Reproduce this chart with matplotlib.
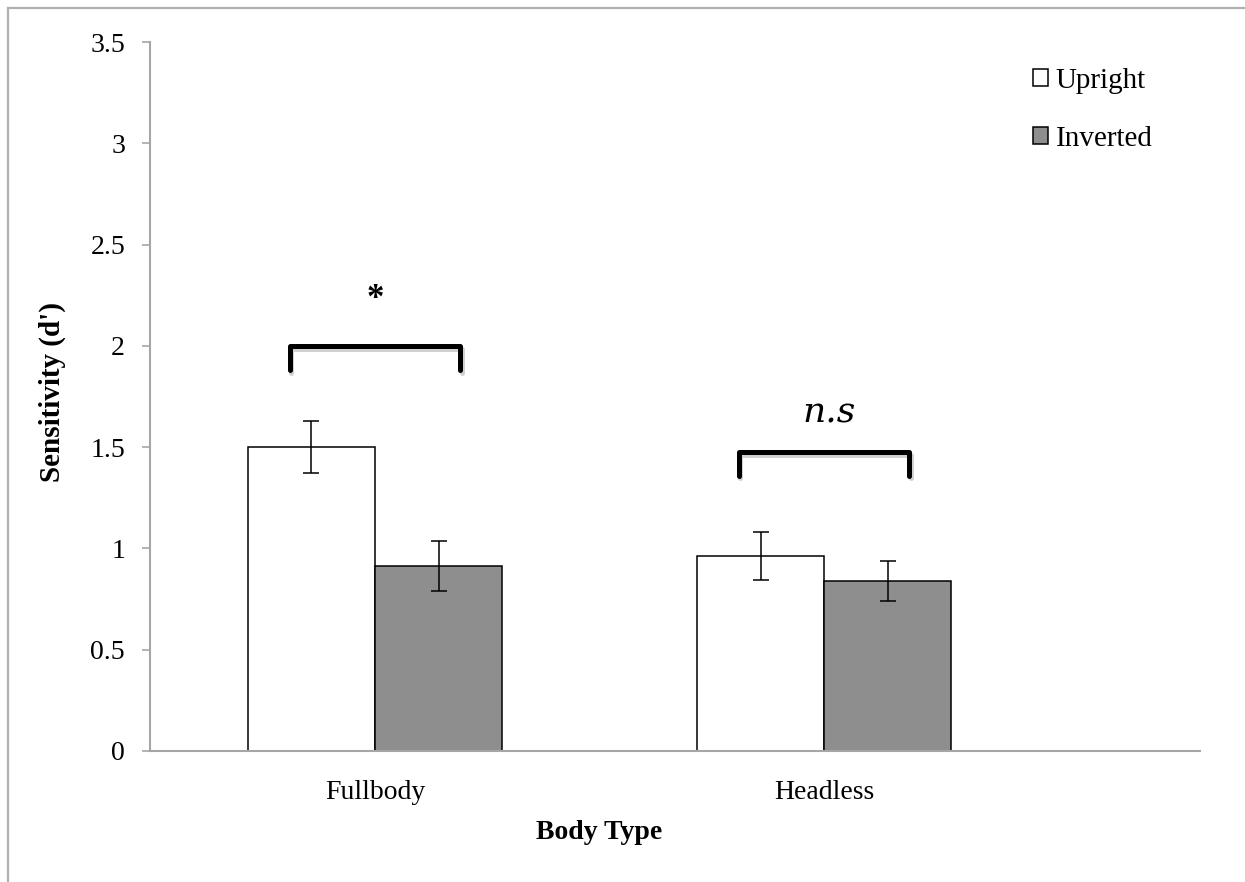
import matplotlib
matplotlib.use('Agg')
import matplotlib.pyplot as plt
import matplotlib.patheffects as pe
from matplotlib.lines import Line2D
from matplotlib.patches import Patch

# ── Data ──
body_types = ['Fullbody', 'Headless']
upright = [1.50, 0.962]
upright_err = [0.128, 0.118]
inverted = [0.913, 0.839]
inverted_err = [0.123, 0.099]
sig_labels = ['*', 'n.s']
bracket_top = [2.0, 1.476]
bracket_low = [1.88, 1.36]
label_y = [2.23, 1.67]

GREY = '#8e8e8e'
AXC = '#a6a6a6'
plt.rcParams['font.family'] = ['Liberation Serif', 'DejaVu Serif']

fig = plt.figure(figsize=(12.45, 8.82), dpi=100)
ax = fig.add_axes([150 / 1245, 1 - 751 / 882, 1050 / 1245, 709 / 882])

# outer frame of the figure
fig.add_artist(Line2D([8 / 1245, 8 / 1245], [0, 1 - 8 / 882], color='#b0b0b0', lw=1.6,
                      transform=fig.transFigure))
fig.add_artist(Line2D([8 / 1245, 1], [1 - 8 / 882, 1 - 8 / 882], color='#b0b0b0', lw=1.6,
                      transform=fig.transFigure))

centers = [1, 2]
w = 0.283
ax.bar([c - w / 2 for c in centers], upright, width=w, color='white', edgecolor='black',
       lw=1.1, label='Upright', zorder=2)
ax.bar([c + w / 2 for c in centers], inverted, width=w, color=GREY, edgecolor='black',
       lw=1.1, label='Inverted', zorder=2)
ax.errorbar([c - w / 2 for c in centers], upright, yerr=upright_err, fmt='none',
            ecolor='black', elinewidth=1.1, capsize=5.8, capthick=1.1, zorder=3)
ax.errorbar([c + w / 2 for c in centers], inverted, yerr=inverted_err, fmt='none',
            ecolor='black', elinewidth=1.1, capsize=5.8, capthick=1.1, zorder=3)

# significance brackets
for c, top, low, lab, ly in zip(centers, bracket_top, bracket_low, sig_labels, label_y):
    ax.plot([c - 0.19, c - 0.19, c + 0.19, c + 0.19], [low, top, top, low], color='black',
            lw=3.6, solid_joinstyle='round', solid_capstyle='round', zorder=4,
            path_effects=[pe.SimpleLineShadow(offset=(1.2, -2), alpha=0.18), pe.Normal()])
    if lab == '*':
        ax.text(c, ly, lab, ha='center', va='center', fontsize=25, fontweight='bold')
    else:
        ax.text(c + 0.01, ly, lab, ha='center', va='center', fontsize=26, style='italic',
                family=['DejaVu Serif'])

ax.set_xlim(0.499, 2.837)
ax.set_ylim(0, 3.5)
ax.set_yticks([0, 0.5, 1, 1.5, 2, 2.5, 3, 3.5])
ax.set_yticklabels(['0', '0.5', '1', '1.5', '2', '2.5', '3', '3.5'], fontsize=20)
ax.set_xticks(centers)
ax.set_xticklabels(body_types, fontsize=20)
ax.tick_params(axis='x', length=0, pad=21)
ax.tick_params(axis='y', length=6, width=1.2, color=AXC, direction='out', pad=12)
for s in ['top', 'right']:
    ax.spines[s].set_visible(False)
for s in ['left', 'bottom']:
    ax.spines[s].set_color(AXC)
    ax.spines[s].set_linewidth(1.5)

ax.text(-0.093, 0.506, "Sensitivity (d')", transform=ax.transAxes, rotation=90,
        ha='center', va='center', fontsize=21, fontweight='bold')
ax.text(1.5, -0.115, 'Body Type', transform=ax.get_xaxis_transform(),
        ha='center', va='center', fontsize=20, fontweight='bold')

handles = [Patch(facecolor='white', edgecolor='black', lw=1.1),
           Patch(facecolor=GREY, edgecolor='black', lw=1.1)]
ax.legend(handles, ['Upright', 'Inverted'], loc='upper left', bbox_to_anchor=(0.841, 0.964),
          frameon=False, fontsize=21, handlelength=0.52, handleheight=0.52, handletextpad=0.25,
          labelspacing=1.1, borderpad=0, borderaxespad=0)

fig.savefig('out.png', dpi=100)
